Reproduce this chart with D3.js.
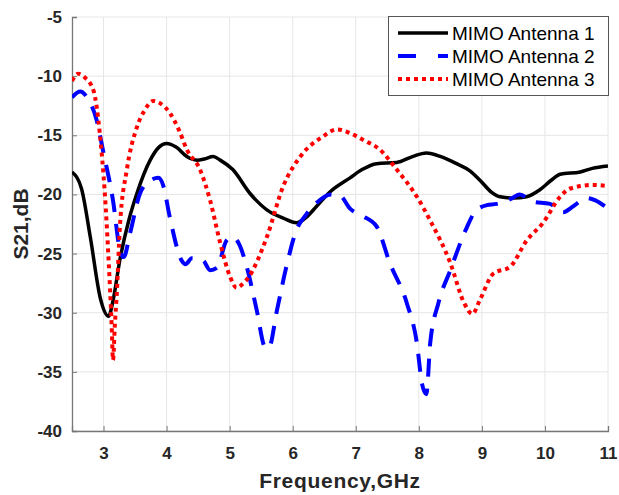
<!DOCTYPE html>
<html>
<head>
<meta charset="utf-8">
<script src="https://cdn.jsdelivr.net/npm/d3@7"></script>
<style>
  body { margin: 0; background: #fff; }
  svg { display: block; font-family: "Liberation Sans", Arial, sans-serif; }
</style>
</head>
<body>
<div id="chart"></div>
<script>
// values
const freq1 = [2.5, 2.65, 2.79, 2.95, 3.08, 3.15, 3.26, 3.4, 3.53, 3.74, 3.88, 4.0, 4.15, 4.32, 4.48, 4.6, 4.74, 4.85, 5.05, 5.32, 5.59, 5.85, 6.06, 6.2, 6.38, 6.59, 6.91, 7.1, 7.33, 7.65, 7.9, 8.12, 8.35, 8.6, 8.81, 8.97, 9.15, 9.29, 9.5, 9.71, 9.92, 10.1, 10.24, 10.56, 10.75, 11.0];
const s21_1 = [-18.1, -19.5, -23.6, -28.8, -30.3, -29.0, -25.5, -22.2, -19.9, -17.1, -16.0, -15.7, -16.0, -16.8, -17.1, -17.0, -16.8, -17.1, -17.9, -19.9, -21.3, -22.0, -22.4, -22.0, -21.0, -19.8, -18.6, -17.9, -17.4, -17.3, -16.8, -16.5, -16.8, -17.4, -18.0, -18.8, -19.8, -20.2, -20.3, -20.2, -19.6, -18.8, -18.3, -18.1, -17.8, -17.6];

const freq2 = [2.5, 2.63, 2.75, 2.89, 3.0, 3.15, 3.26, 3.32, 3.42, 3.58, 3.75, 3.87, 3.95, 4.05, 4.24, 4.3, 4.4, 4.58, 4.69, 4.8, 4.95, 5.05, 5.15, 5.27, 5.43, 5.56, 5.62, 5.75, 5.9, 6.06, 6.2, 6.38, 6.6, 6.75, 6.91, 7.1, 7.33, 7.54, 7.81, 7.97, 8.05, 8.12, 8.18, 8.31, 8.5, 8.76, 8.9, 9.08, 9.23, 9.45, 9.6, 9.8, 10.08, 10.29, 10.45, 10.66, 10.8, 10.95];
const s21_2 = [-11.8, -11.3, -11.9, -13.7, -16.5, -20.5, -24.7, -25.3, -23.3, -19.9, -18.8, -18.6, -19.3, -21.9, -25.6, -25.9, -25.4, -25.6, -26.4, -26.2, -23.9, -23.6, -24.2, -26.1, -29.8, -32.9, -33.0, -29.8, -26.1, -23.0, -21.8, -20.7, -20.0, -20.1, -21.2, -21.8, -22.7, -25.8, -29.2, -32.6, -36.0, -36.9, -32.6, -29.2, -26.4, -22.8, -21.4, -20.9, -20.8, -20.4, -20.0, -20.6, -20.8, -21.5, -21.0, -20.3, -20.5, -21.0];

const freq3 = [2.5, 2.6, 2.7, 2.84, 2.94, 3.02, 3.08, 3.13, 3.15, 3.18, 3.21, 3.26, 3.37, 3.53, 3.65, 3.79, 3.9, 4.05, 4.2, 4.32, 4.53, 4.69, 4.85, 5.01, 5.11, 5.2, 5.3, 5.59, 5.85, 6.12, 6.48, 6.7, 6.9, 7.12, 7.38, 7.65, 7.97, 8.18, 8.5, 8.72, 8.85, 8.97, 9.18, 9.45, 9.71, 9.97, 10.24, 10.4, 10.77, 11.0];
const s21_3 = [-10.4, -9.8, -10.1, -11.2, -14.8, -19.9, -25.5, -31.2, -34.0, -31.0, -28.4, -22.7, -17.9, -14.3, -12.9, -12.1, -12.3, -13.1, -14.6, -16.2, -17.9, -20.5, -24.1, -27.0, -27.9, -27.6, -27.0, -23.6, -19.3, -16.8, -15.1, -14.5, -14.8, -15.4, -16.2, -17.9, -20.2, -22.2, -25.8, -29.2, -30.1, -28.9, -26.7, -26.1, -23.9, -22.4, -20.2, -19.5, -19.2, -19.3];

const seriesNames = ["MIMO Antenna 1", "MIMO Antenna 2", "MIMO Antenna 3"];
const xTicks = [3, 4, 5, 6, 7, 8, 9, 10, 11];
const yTicks = [-5, -10, -15, -20, -25, -30, -35, -40];

const width = 619, height = 495;
const margin = { top: 17, right: 11, bottom: 64, left: 72 };

const svg = d3.select("#chart").append("svg")
  .attr("width", width)
  .attr("height", height);

const x = d3.scaleLinear().domain([2.5, 11]).range([margin.left, width - margin.right]);
const y = d3.scaleLinear().domain([-40, -5]).range([height - margin.bottom, margin.top]);

// grid
svg.append("g")
  .selectAll("line")
  .data(xTicks)
  .join("line")
  .attr("x1", d => x(d)).attr("x2", d => x(d))
  .attr("y1", y(-5)).attr("y2", y(-40))
  .attr("stroke", "#e6e6e6");

svg.append("g")
  .selectAll("line")
  .data(yTicks)
  .join("line")
  .attr("x1", x(2.5)).attr("x2", x(11))
  .attr("y1", d => y(d)).attr("y2", d => y(d))
  .attr("stroke", "#e6e6e6");

// axes (ticks point inward)
const xAxis = svg.append("g")
  .attr("transform", `translate(0,${y(-40)})`)
  .call(d3.axisBottom(x).tickValues(xTicks).tickSize(-5).tickPadding(16).tickFormat(d3.format("d")));

const yAxis = svg.append("g")
  .attr("transform", `translate(${x(2.5)},0)`)
  .call(d3.axisLeft(y).tickValues(yTicks).tickSize(-5).tickPadding(10).tickFormat(d => d));

[xAxis, yAxis].forEach(g => {
  g.select(".domain").attr("stroke", "#777").attr("stroke-width", 1.3);
  g.selectAll(".tick line").attr("stroke", "#777");
  g.selectAll(".tick text")
    .attr("fill", "#262626")
    .style("font-size", "17px")
    .style("font-weight", "bold")
    .style("font-family", "'Liberation Sans', Arial, sans-serif");
});

// axis titles
svg.append("text")
  .attr("x", (x(2.5) + x(11)) / 2)
  .attr("y", 488)
  .attr("text-anchor", "middle")
  .attr("fill", "#262626")
  .style("font-size", "21px")
  .style("font-weight", "bold")
  .style("letter-spacing", "0.7px")
  .text("Frequency,GHz");

svg.append("text")
  .attr("transform", `translate(28,${(y(-5) + y(-40)) / 2}) rotate(-90)`)
  .attr("text-anchor", "middle")
  .attr("fill", "#262626")
  .style("font-size", "21px")
  .style("font-weight", "bold")
  .text("S21,dB");

// curves
svg.append("clipPath").attr("id", "clip")
  .append("rect")
  .attr("x", x(2.5)).attr("y", y(-5))
  .attr("width", x(11) - x(2.5)).attr("height", y(-40) - y(-5));

const line = d3.line()
  .x(d => x(d[0]))
  .y(d => y(d[1]))
  .curve(d3.curveMonotoneX);

const series = [
  { name: seriesNames[0], pts: d3.zip(freq1, s21_1), color: "#000000", dash: null, w: 3.5 },
  { name: seriesNames[1], pts: d3.zip(freq2, s21_2), color: "#0000ff", dash: "18,12", w: 4 },
  { name: seriesNames[2], pts: d3.zip(freq3, s21_3), color: "#ff0000", dash: "4,4", w: 4 }
];

svg.append("g")
  .attr("clip-path", "url(#clip)")
  .selectAll("path")
  .data(series)
  .join("path")
  .attr("d", d => line(d.pts))
  .attr("fill", "none")
  .attr("stroke", d => d.color)
  .attr("stroke-width", d => d.w)
  .attr("stroke-dasharray", d => d.dash)
  .attr("stroke-linejoin", "round");

// legend
const legend = svg.append("g");
legend.append("rect")
  .attr("x", 388.5).attr("y", 16.5)
  .attr("width", 220).attr("height", 79)
  .attr("fill", "#fff")
  .attr("stroke", "#555");

const row = legend.selectAll("g.row")
  .data(series)
  .join("g")
  .attr("class", "row")
  .attr("transform", (d, i) => `translate(0,${33 + i * 23})`);

row.append("line")
  .attr("x1", 398).attr("x2", 448)
  .attr("stroke", d => d.color)
  .attr("stroke-width", d => d.w)
  .attr("stroke-dasharray", (d, i) => i === 1 ? "18,22" : d.dash);

row.append("text")
  .attr("x", 452)
  .attr("y", 6.5)
  .attr("fill", "#000")
  .style("font-size", "19px")
  .text(d => d.name);
</script>
</body>
</html>
